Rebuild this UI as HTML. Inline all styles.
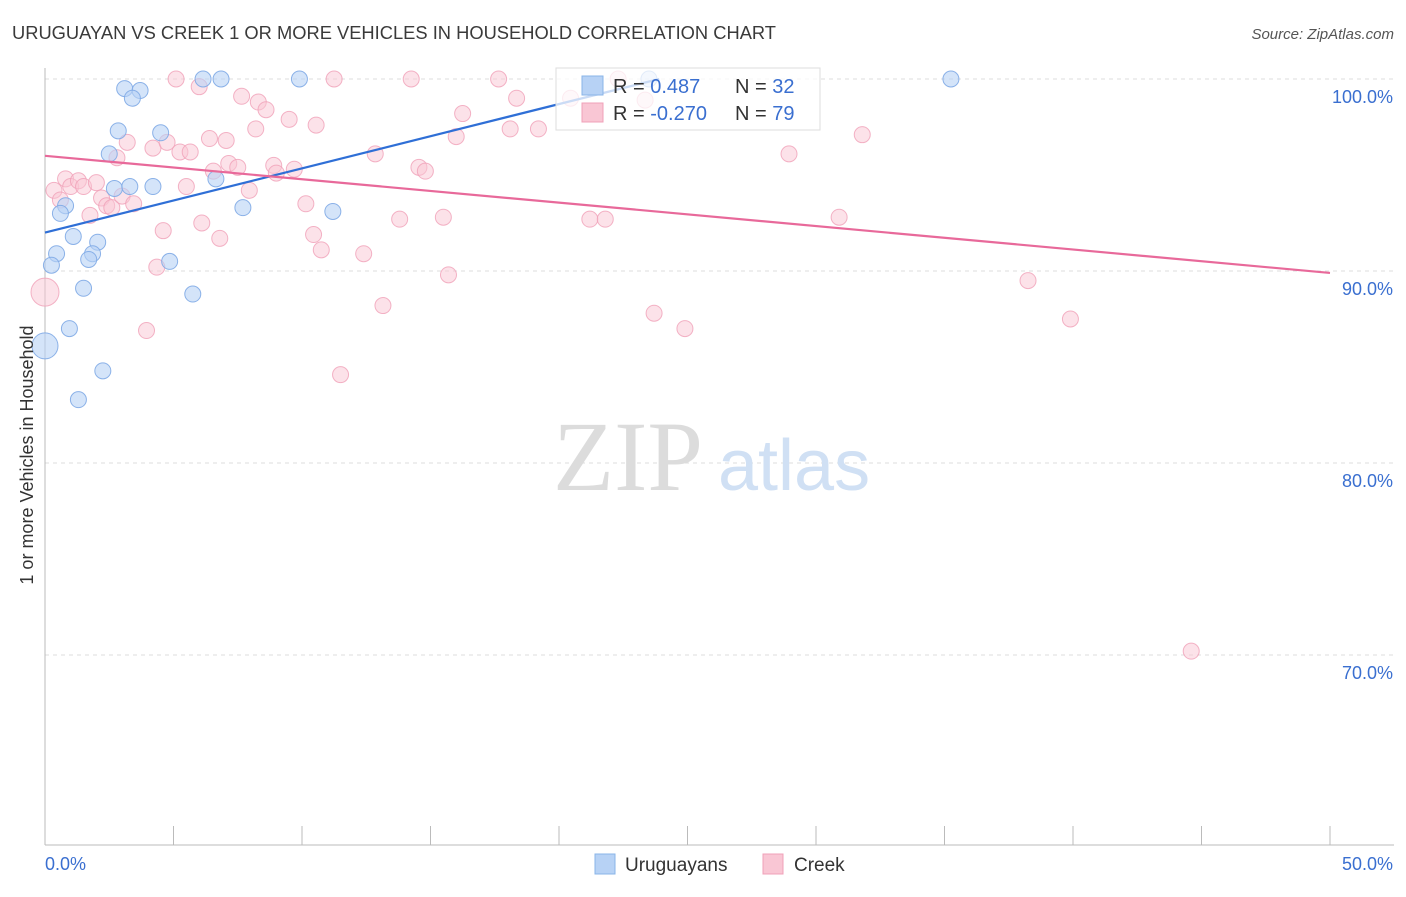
<!DOCTYPE html>
<html><head><meta charset="utf-8"><style>
body{margin:0;background:#fff;font-family:"Liberation Sans",sans-serif;}
svg text{font-family:"Liberation Sans",sans-serif;}
</style></head><body>
<svg id="chart" width="1406" height="892">
<text x="12" y="39" font-size="18" fill="#3a3a3a" textLength="764" lengthAdjust="spacingAndGlyphs">URUGUAYAN VS CREEK 1 OR MORE VEHICLES IN HOUSEHOLD CORRELATION CHART</text>
<text x="1394" y="39" font-size="15" fill="#555" font-style="italic" text-anchor="end">Source: ZipAtlas.com</text>
<g id="grid"></g>
<text x="553" y="490" font-size="100" fill="#dcdcdc" style="font-family:'Liberation Serif',serif">ZIP</text>
<text x="718" y="490" font-size="72" fill="#d0e0f4">atlas</text>
<g id="pts"></g>
<g id="lines"></g>
<text transform="translate(33,455) rotate(-90)" font-size="18" fill="#333" text-anchor="middle">1 or more Vehicles in Household</text>
<g>
<rect x="556" y="68" width="264" height="62" fill="#fff" fill-opacity="0.75" stroke="#ddd"/>
<rect x="582" y="76" width="21" height="19" fill="#b7d2f5" stroke="#8ab4e8"/>
<rect x="582" y="103" width="21" height="19" fill="#f9c6d4" stroke="#f0a0b8"/>
<text x="613" y="93" font-size="20" fill="#333">R = <tspan fill="#3a6fd0">0.487</tspan></text>
<text x="735" y="93" font-size="20" fill="#333">N = <tspan fill="#3a6fd0">32</tspan></text>
<text x="613" y="120" font-size="20" fill="#333">R = <tspan fill="#3a6fd0">-0.270</tspan></text>
<text x="735" y="120" font-size="20" fill="#333">N = <tspan fill="#3a6fd0">79</tspan></text>
</g>
<g>
<rect x="595" y="854" width="20" height="20" fill="#b7d2f5" stroke="#8ab4e8"/>
<text x="625" y="871" font-size="19" fill="#333">Uruguayans</text>
<rect x="763" y="854" width="20" height="20" fill="#f9c6d4" stroke="#f0a0b8"/>
<text x="794" y="871" font-size="19" fill="#333">Creek</text>
</g>
</svg>
<script>
const yTicks=[100,90,80,70];
const yTickLabels=["100.0%","90.0%","80.0%","70.0%"];
const xTickLabels=["0.0%","50.0%"];
const blueX=[3.1,3.7,3.4,6.15,6.85,9.9,35.25,2.85,4.5,2.5,2.7,3.3,4.2,6.65,7.7,11.2,0.8,0.6,1.1,2.05,0.45,1.85,1.7,0.25,4.85,1.5,5.75,0.95,0.0,2.25,1.3,23.5];
const blueY=[99.5,99.4,99.0,100,100,100,100,97.3,97.2,96.1,94.3,94.4,94.4,94.8,93.3,93.1,93.4,93.0,91.8,91.5,90.9,90.9,90.6,90.3,90.5,89.1,88.8,87.0,86.1,84.8,83.3,100];
const blueR=[8,8,8,8,8,8,8,8,8,8,8,8,8,8,8,8,8,8,8,8,8,8,8,8,8,8,8,8,13,8,8,8];
const pinkX=[5.1,11.25,14.25,17.65,22.3,6.0,7.65,8.3,8.6,9.5,10.55,8.2,16.25,18.35,20.45,23.35,18.1,19.2,16.0,31.8,28.95,12.85,3.2,4.2,4.75,6.4,7.05,5.25,5.65,2.8,7.15,6.55,7.5,8.9,9.7,9.0,14.55,14.8,0.35,0.8,1.0,1.3,1.5,2.0,5.5,7.95,0.6,2.2,2.4,2.6,3.0,3.45,1.75,10.15,6.1,4.6,6.8,10.45,10.75,13.8,15.5,21.2,21.8,30.9,12.4,4.35,15.7,38.25,0.0,13.15,23.7,39.9,24.9,3.95,11.5,44.6];
const pinkY=[100,100,100,100,100,99.6,99.1,98.8,98.4,97.9,97.6,97.4,98.2,99.0,99.0,98.9,97.4,97.4,97.0,97.1,96.1,96.1,96.7,96.4,96.7,96.9,96.8,96.2,96.2,95.9,95.6,95.2,95.4,95.5,95.3,95.1,95.4,95.2,94.2,94.8,94.4,94.7,94.4,94.6,94.4,94.2,93.7,93.8,93.4,93.3,93.9,93.5,92.9,93.5,92.5,92.1,91.7,91.9,91.1,92.7,92.8,92.7,92.7,92.8,90.9,90.2,89.8,89.5,88.9,88.2,87.8,87.5,87.0,86.9,84.6,70.2];
const pinkR=pinkX.map((v,i)=>i===68?14:8);
const blueLine=[[0,92.0],[23.9,100]];
const pinkLine=[[0,96.0],[50,89.9]];
const X=v=>45+v/50*1285;
const Y=v=>79+(100-v)*19.2;
const NS="http://www.w3.org/2000/svg";
function mk(t,a,p){const e=document.createElementNS(NS,t);for(const k in a)e.setAttribute(k,a[k]);p.appendChild(e);return e;}
const g=document.getElementById('grid');
yTicks.forEach((t,i)=>{
 const l=mk('line',{x1:45,x2:1394,y1:Y(t),y2:Y(t),stroke:'#ddd','stroke-dasharray':'4,4'},g);
 
 
 const tx=mk('text',{x:1393,y:Y(t)+24,'font-size':18,fill:'#3a6fd0','text-anchor':'end'},g);
 tx.textContent=yTickLabels[i];
 
 
});
mk('line',{x1:45,x2:45,y1:68,y2:845,stroke:'#bbb'},g);
mk('line',{x1:45,x2:1394,y1:845,y2:845,stroke:'#bbb'},g);
for(let i=0;i<=10;i++){const x=X(i*5);mk('line',{x1:x,x2:x,y1:826,y2:845,stroke:'#bbb'},g);}
[[0,'start',45],[1,'end',1393]].forEach(([i,a,x])=>{const t=mk('text',{x:x,y:870,'font-size':18,fill:'#3a6fd0','text-anchor':a},g);t.textContent=xTickLabels[i];
 
 });
const p=document.getElementById('pts');
pinkX.forEach((v,i)=>{const c=mk('circle',{cx:X(v),cy:Y(pinkY[i]),r:pinkR[i],fill:'#f9c6d4','fill-opacity':0.5,stroke:'#f0a0b8','stroke-opacity':0.8},p);
 
 });
blueX.forEach((v,i)=>{const c=mk('circle',{cx:X(v),cy:Y(blueY[i]),r:blueR[i],fill:'#b7d2f5','fill-opacity':0.6,stroke:'#7faae6','stroke-opacity':0.9},p);
 
 });
const L=document.getElementById('lines');
const bl=mk('line',{x1:X(blueLine[0][0]),y1:Y(blueLine[0][1]),x2:X(blueLine[1][0]),y2:Y(blueLine[1][1]),stroke:'#2f6fd6','stroke-width':2.2},L);


const pl=mk('line',{x1:X(pinkLine[0][0]),y1:Y(pinkLine[0][1]),x2:X(pinkLine[1][0]),y2:Y(pinkLine[1][1]),stroke:'#e8699a','stroke-width':2.2},L);


</script>
</body></html>
